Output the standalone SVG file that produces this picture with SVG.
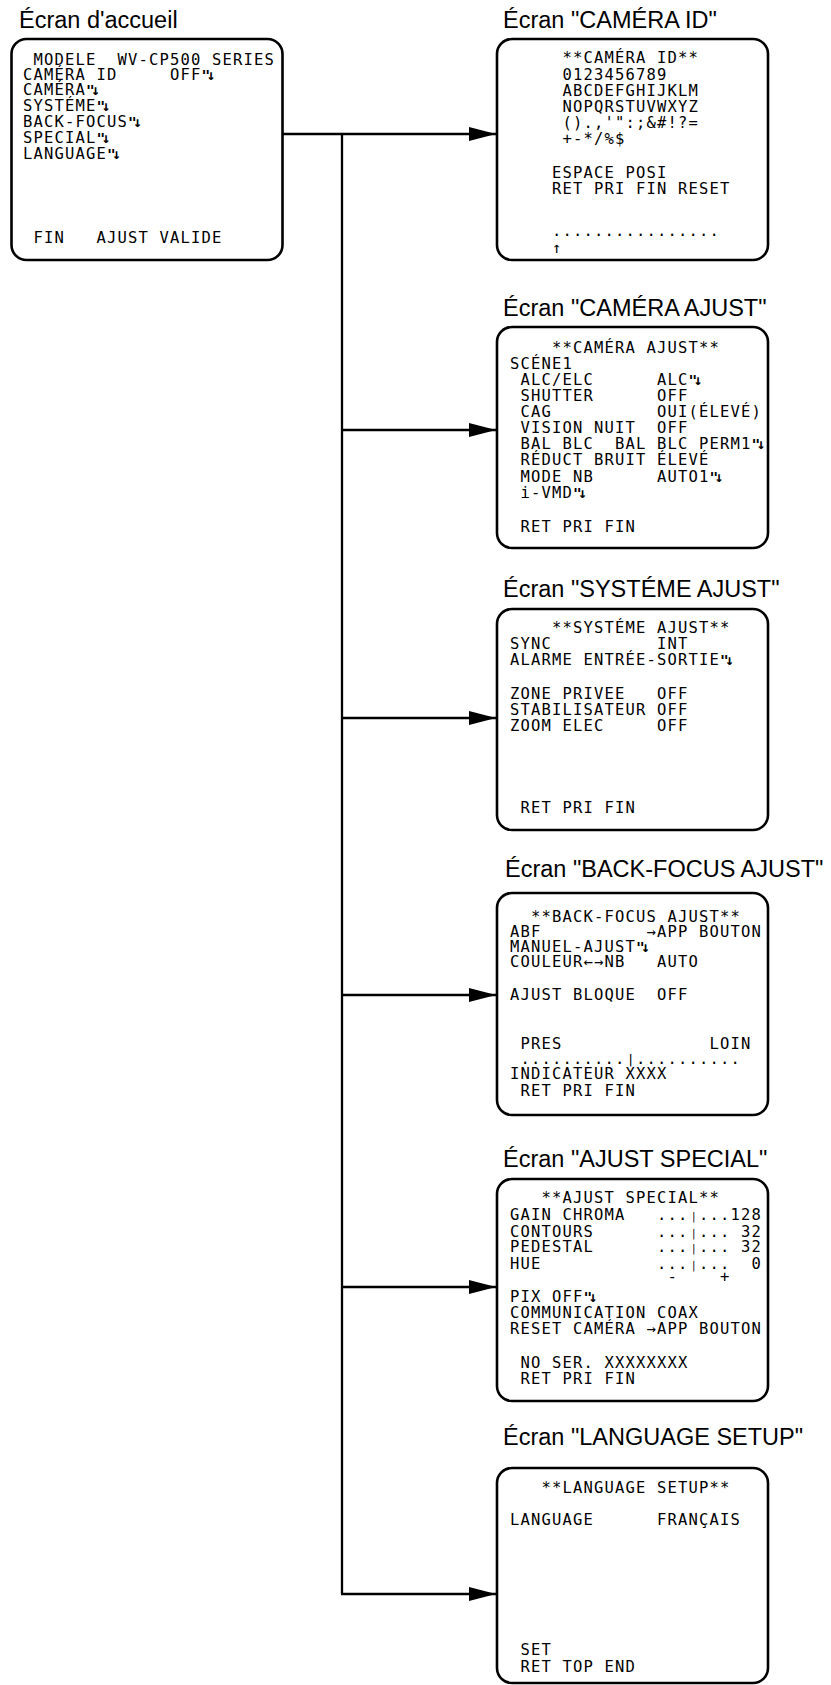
<svg xmlns="http://www.w3.org/2000/svg" width="831" height="1685" viewBox="0 0 831 1685">
<style>
.t{font-family:"Liberation Sans",Arial,sans-serif;font-size:23.5px;fill:#000}
.m{font-family:"DejaVu Sans Mono","Liberation Mono",monospace;font-size:15.5px;letter-spacing:1.17px;fill:#000;white-space:pre}
.r{font-size:14.5px;letter-spacing:-3.5px;font-weight:bold}
.b{font-size:10px;letter-spacing:2.28px}
.box{fill:#fff;stroke:#000;stroke-width:2.6}
.c{fill:none;stroke:#000;stroke-width:2.3}
.ar{marker-end:url(#ah)}
</style>
<defs>
<marker id="ah" viewBox="0 0 27 14" markerUnits="userSpaceOnUse" markerWidth="27" markerHeight="14" refX="27" refY="7" orient="auto">
<path d="M0,0 L27,7 L0,14 Z" fill="#000"/>
</marker>
</defs>
<rect width="831" height="1685" fill="#fff"/>
<g id="connectors">
<path class="c" d="M342,134 V1594"/>
<path class="c ar" d="M283,134 H496"/>
<path class="c ar" d="M342,430 H496"/>
<path class="c ar" d="M342,718 H496"/>
<path class="c ar" d="M342,995 H496"/>
<path class="c ar" d="M342,1287 H496"/>
<path class="c ar" d="M341,1594 H496"/>
</g>
<g id="home">
<text class="t" x="19" y="28">Écran d'accueil</text>
<rect class="box" x="11.5" y="39" width="271" height="221" rx="15"/>
<text class="m" x="23" y="65" xml:space="preserve"> MODELE  WV-CP500 SERIES</text>
<text class="m" x="23" y="80" xml:space="preserve">CAMÉRA ID     OFF<tspan class="r">"↓</tspan></text>
<text class="m" x="23" y="95" xml:space="preserve">CAMÉRA<tspan class="r">"↓</tspan></text>
<text class="m" x="23" y="111" xml:space="preserve">SYSTÉME<tspan class="r">"↓</tspan></text>
<text class="m" x="23" y="127" xml:space="preserve">BACK-FOCUS<tspan class="r">"↓</tspan></text>
<text class="m" x="23" y="143" xml:space="preserve">SPECIAL<tspan class="r">"↓</tspan></text>
<text class="m" x="23" y="159" xml:space="preserve">LANGUAGE<tspan class="r">"↓</tspan></text>
<text class="m" x="23" y="243" xml:space="preserve"> FIN   AJUST VALIDE</text>
</g>
<g id="camera-id">
<text class="t" x="503" y="28">Écran "CAMÉRA ID"</text>
<rect class="box" x="497" y="39" width="271" height="221" rx="15"/>
<text class="m" x="510" y="63" xml:space="preserve">     **CAMÉRA ID**</text>
<text class="m" x="510" y="79.5" xml:space="preserve">     0123456789</text>
<text class="m" x="510" y="96" xml:space="preserve">     ABCDEFGHIJKLM</text>
<text class="m" x="510" y="112" xml:space="preserve">     NOPQRSTUVWXYZ</text>
<text class="m" x="510" y="128" xml:space="preserve">     ().,'":;&amp;#!?=</text>
<text class="m" x="510" y="144" xml:space="preserve">     +-*/%$</text>
<text class="m" x="510" y="178" xml:space="preserve">    ESPACE POSI</text>
<text class="m" x="510" y="194" xml:space="preserve">    RET PRI FIN RESET</text>
<text class="m" x="510" y="236" xml:space="preserve">    ................</text>
<text class="m" x="510" y="253" xml:space="preserve">    ↑</text>
</g>
<g id="camera-ajust">
<text class="t" x="503" y="316">Écran "CAMÉRA AJUST"</text>
<rect class="box" x="497" y="327" width="271" height="221" rx="15"/>
<text class="m" x="510" y="353" xml:space="preserve">    **CAMÉRA AJUST**</text>
<text class="m" x="510" y="369" xml:space="preserve">SCÉNE1</text>
<text class="m" x="510" y="385" xml:space="preserve"> ALC/ELC      ALC<tspan class="r">"↓</tspan></text>
<text class="m" x="510" y="401" xml:space="preserve"> SHUTTER      OFF</text>
<text class="m" x="510" y="417" xml:space="preserve"> CAG          OUI(ÉLEVÉ)</text>
<text class="m" x="510" y="433" xml:space="preserve"> VISION NUIT  OFF</text>
<text class="m" x="510" y="449" xml:space="preserve"> BAL BLC  BAL BLC PERM1<tspan class="r">"↓</tspan></text>
<text class="m" x="510" y="465" xml:space="preserve"> RÉDUCT BRUIT ÉLEVÉ</text>
<text class="m" x="510" y="482" xml:space="preserve"> MODE NB      AUTO1<tspan class="r">"↓</tspan></text>
<text class="m" x="510" y="498" xml:space="preserve"> i-VMD<tspan class="r">"↓</tspan></text>
<text class="m" x="510" y="532" xml:space="preserve"> RET PRI FIN</text>
</g>
<g id="systeme-ajust">
<text class="t" x="503" y="597">Écran "SYSTÉME AJUST"</text>
<rect class="box" x="497" y="609" width="271" height="221" rx="15"/>
<text class="m" x="510" y="633" xml:space="preserve">    **SYSTÉME AJUST**</text>
<text class="m" x="510" y="649" xml:space="preserve">SYNC          INT</text>
<text class="m" x="510" y="665" xml:space="preserve">ALARME ENTRÉE-SORTIE<tspan class="r">"↓</tspan></text>
<text class="m" x="510" y="699" xml:space="preserve">ZONE PRIVEE   OFF</text>
<text class="m" x="510" y="715" xml:space="preserve">STABILISATEUR OFF</text>
<text class="m" x="510" y="731" xml:space="preserve">ZOOM ELEC     OFF</text>
<text class="m" x="510" y="813" xml:space="preserve"> RET PRI FIN</text>
</g>
<g id="backfocus-ajust">
<text class="t" x="505" y="877">Écran "BACK-FOCUS AJUST"</text>
<rect class="box" x="497" y="893" width="271" height="222" rx="15"/>
<text class="m" x="510" y="921.7" xml:space="preserve">  **BACK-FOCUS AJUST**</text>
<text class="m" x="510" y="936.7" xml:space="preserve">ABF          →APP BOUTON</text>
<text class="m" x="510" y="951.7" xml:space="preserve">MANUEL-AJUST<tspan class="r">"↓</tspan></text>
<text class="m" x="510" y="966.7" xml:space="preserve">COULEUR←→NB   AUTO</text>
<text class="m" x="510" y="1000" xml:space="preserve">AJUST BLOQUE  OFF</text>
<text class="m" x="510" y="1049" xml:space="preserve"> PRES              LOIN</text>
<text class="m" x="510" y="1064" xml:space="preserve"> ..........<tspan style="font-size:13px;letter-spacing:1.5px" dx="1.2">|</tspan>..........</text>
<text class="m" x="510" y="1079" xml:space="preserve">INDICATEUR XXXX</text>
<text class="m" x="510" y="1095.5" xml:space="preserve"> RET PRI FIN</text>
</g>
<g id="ajust-special">
<text class="t" x="503" y="1167">Écran "AJUST SPECIAL"</text>
<rect class="box" x="497" y="1179" width="271" height="222" rx="15"/>
<text class="m" x="510" y="1203" xml:space="preserve">   **AJUST SPECIAL**</text>
<text class="m" x="510" y="1220" xml:space="preserve">GAIN CHROMA   ...<tspan class="b" dx="2.2">|</tspan>...128</text>
<text class="m" x="510" y="1236.5" xml:space="preserve">CONTOURS      ...<tspan class="b" dx="2.2">|</tspan>... 32</text>
<text class="m" x="510" y="1252" xml:space="preserve">PEDESTAL      ...<tspan class="b" dx="2.2">|</tspan>... 32</text>
<text class="m" x="510" y="1269" xml:space="preserve">HUE           ...<tspan class="b" dx="2.2">|</tspan>...  0</text>
<text class="m" x="510" y="1282" xml:space="preserve">               -    +</text>
<text class="m" x="510" y="1302" xml:space="preserve">PIX OFF<tspan class="r">"↓</tspan></text>
<text class="m" x="510" y="1318" xml:space="preserve">COMMUNICATION COAX</text>
<text class="m" x="510" y="1333.5" xml:space="preserve">RESET CAMÉRA →APP BOUTON</text>
<text class="m" x="510" y="1367.5" xml:space="preserve"> NO SER. XXXXXXXX</text>
<text class="m" x="510" y="1383.5" xml:space="preserve"> RET PRI FIN</text>
</g>
<g id="language-setup">
<text class="t" x="503" y="1445">Écran "LANGUAGE SETUP"</text>
<rect class="box" x="497" y="1468" width="271" height="215" rx="15"/>
<text class="m" x="510" y="1493" xml:space="preserve">   **LANGUAGE SETUP**</text>
<text class="m" x="510" y="1525" xml:space="preserve">LANGUAGE      FRANÇAIS</text>
<text class="m" x="510" y="1655" xml:space="preserve"> SET</text>
<text class="m" x="510" y="1671.5" xml:space="preserve"> RET TOP END</text>
</g>
</svg>
